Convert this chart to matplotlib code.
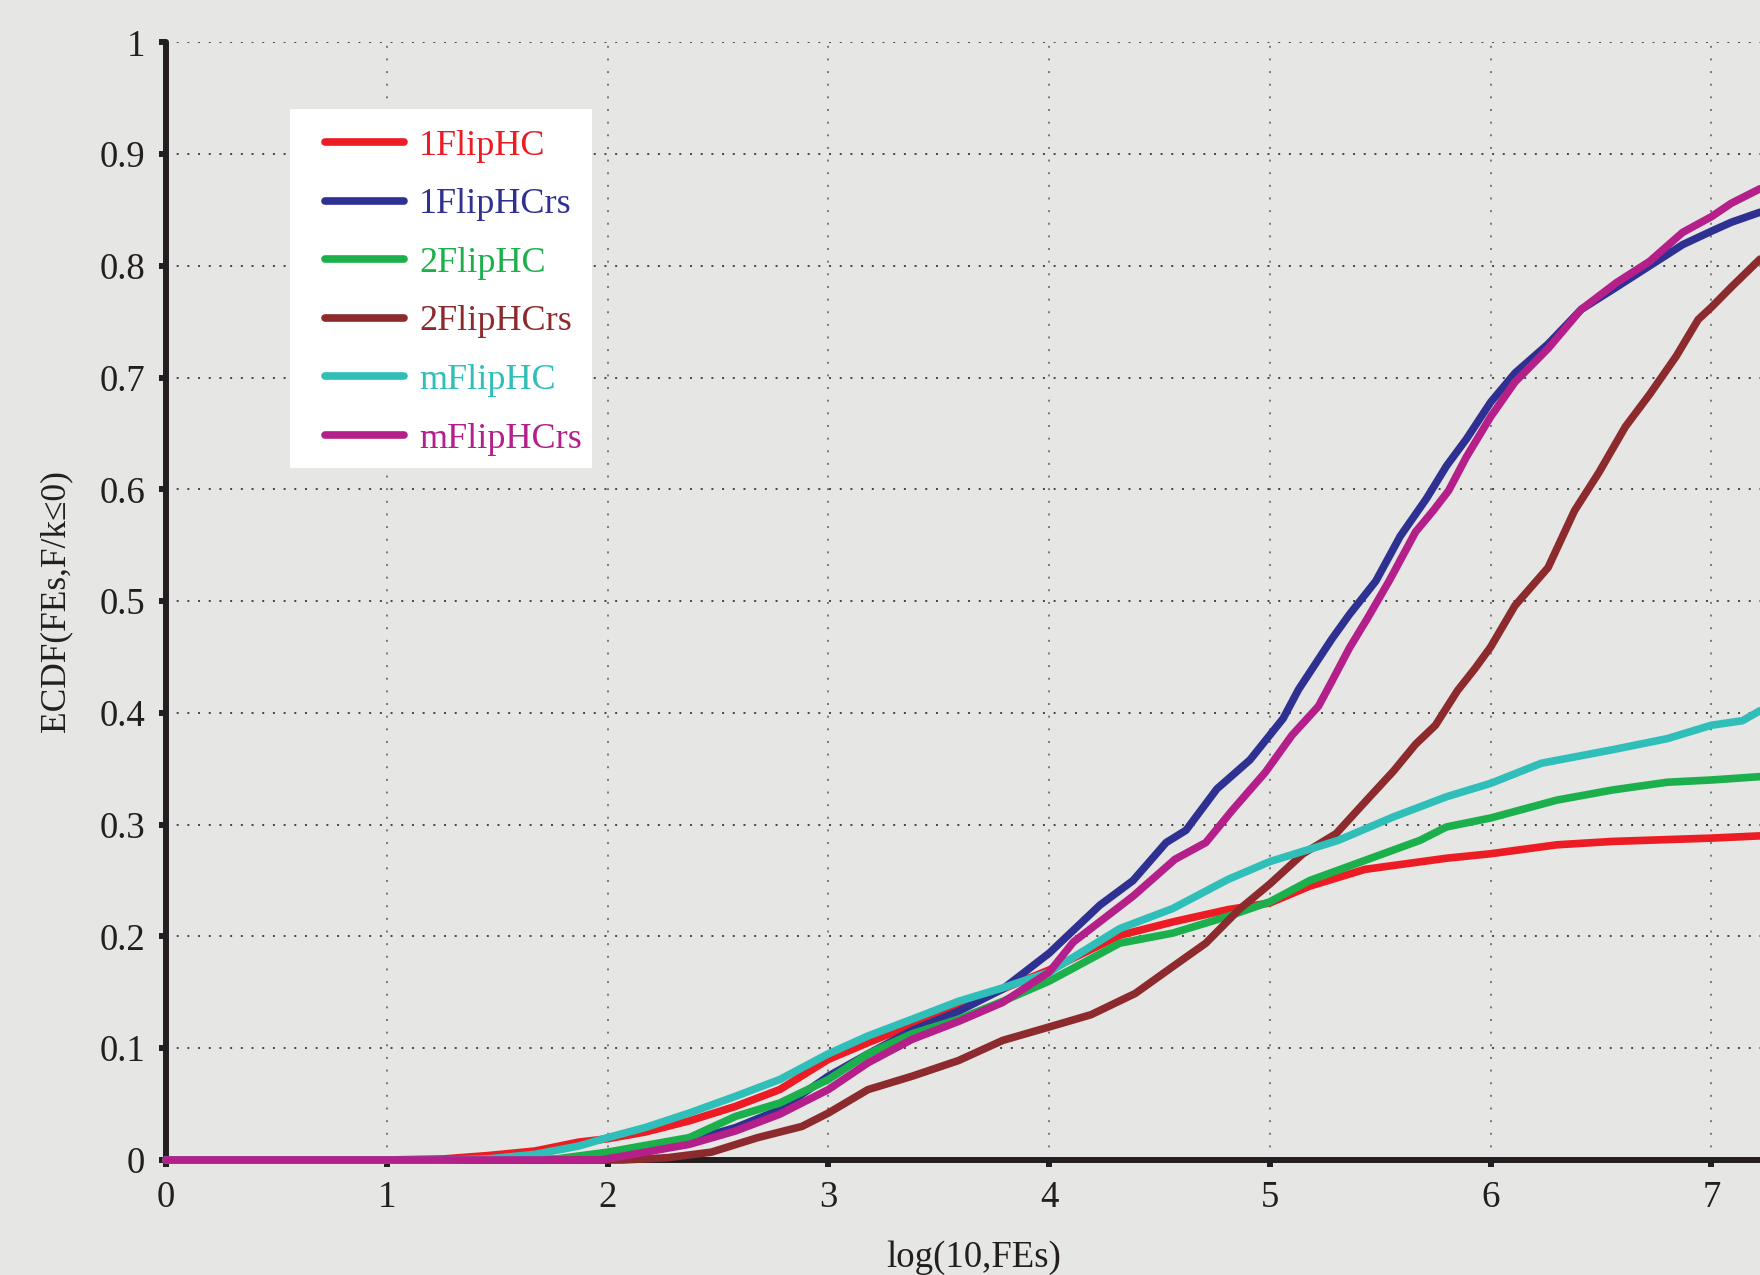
import matplotlib
matplotlib.use("Agg")
import matplotlib.pyplot as plt
from matplotlib.patches import Rectangle

# ECDF curves (x = log10 FEs)
labels = ["1FlipHC", "1FlipHCrs", "2FlipHC", "2FlipHCrs", "mFlipHC", "mFlipHCrs"]
colors = ["#ED1C24", "#2E3192", "#1BB04B", "#8C2A2E", "#2FBFB8", "#B51F8A"]

x_1fliphc = [0, 1.0, 1.26, 1.46, 1.67, 1.87, 2.0, 2.17, 2.37, 2.58, 2.78, 3.0, 3.18, 3.38,
             3.59, 3.79, 4.0, 4.32, 4.56, 4.81, 5.0, 5.18, 5.43, 5.80, 6.0, 6.30, 6.55, 7.0, 7.22]
y_1fliphc = [0, 0, 0.001, 0.004, 0.008, 0.016, 0.019, 0.025, 0.035, 0.048, 0.063, 0.090, 0.105,
             0.121, 0.136, 0.153, 0.170, 0.201, 0.213, 0.224, 0.230, 0.245, 0.260, 0.270, 0.274,
             0.282, 0.285, 0.288, 0.290]

x_1fliphcrs = [0, 1.97, 2.17, 2.37, 2.58, 2.78, 3.0, 3.18, 3.38, 3.59, 3.79, 4.0, 4.23, 4.38,
               4.53, 4.62, 4.76, 4.91, 5.06, 5.13, 5.28, 5.36, 5.48, 5.59, 5.71, 5.80, 5.89, 6.0,
               6.11, 6.26, 6.41, 6.57, 6.72, 6.87, 7.0, 7.09, 7.22]
y_1fliphcrs = [0, 0, 0.008, 0.017, 0.029, 0.045, 0.075, 0.095, 0.116, 0.133, 0.153, 0.185, 0.228,
               0.250, 0.284, 0.295, 0.332, 0.358, 0.395, 0.421, 0.466, 0.488, 0.518, 0.558, 0.592,
               0.621, 0.645, 0.678, 0.704, 0.730, 0.761, 0.781, 0.800, 0.819, 0.831, 0.839, 0.848]

x_2fliphc = [0, 1.5, 1.77, 2.0, 2.17, 2.37, 2.58, 2.78, 3.0, 3.18, 3.38, 3.59, 3.79, 4.0, 4.32,
             4.56, 4.81, 5.0, 5.18, 5.43, 5.68, 5.80, 6.0, 6.30, 6.55, 6.80, 7.0, 7.22]
y_2fliphc = [0, 0, 0.001, 0.007, 0.013, 0.020, 0.039, 0.051, 0.072, 0.095, 0.113, 0.126, 0.142,
             0.160, 0.194, 0.203, 0.218, 0.231, 0.250, 0.268, 0.286, 0.298, 0.306, 0.322, 0.331,
             0.338, 0.340, 0.343]

x_2fliphcrs = [0, 2.07, 2.27, 2.47, 2.68, 2.88, 3.0, 3.18, 3.38, 3.59, 3.79, 4.0, 4.19, 4.39,
               4.56, 4.71, 4.86, 5.0, 5.15, 5.30, 5.42, 5.56, 5.66, 5.75, 5.85, 5.93, 6.0, 6.11,
               6.26, 6.38, 6.49, 6.61, 6.72, 6.84, 6.94, 7.0, 7.09, 7.22]
y_2fliphcrs = [0, 0, 0.002, 0.007, 0.020, 0.030, 0.042, 0.063, 0.075, 0.089, 0.107, 0.119, 0.130,
               0.149, 0.173, 0.194, 0.224, 0.247, 0.274, 0.292, 0.318, 0.348, 0.372, 0.389, 0.420,
               0.440, 0.459, 0.496, 0.530, 0.581, 0.615, 0.656, 0.685, 0.719, 0.752, 0.763, 0.781,
               0.806]

x_mfliphc = [0, 1.3, 1.46, 1.67, 1.87, 2.0, 2.17, 2.37, 2.58, 2.78, 3.0, 3.18, 3.38, 3.59, 3.79,
             4.0, 4.32, 4.56, 4.81, 5.0, 5.31, 5.56, 5.80, 6.0, 6.23, 6.55, 6.80, 7.0, 7.14, 7.22]
y_mfliphc = [0, 0, 0.001, 0.005, 0.0125, 0.020, 0.029, 0.042, 0.057, 0.072, 0.095, 0.111, 0.126,
             0.142, 0.154, 0.168, 0.207, 0.225, 0.251, 0.267, 0.286, 0.307, 0.325, 0.337, 0.355,
             0.367, 0.377, 0.389, 0.393, 0.402]

x_mfliphcrs = [0, 1.97, 2.17, 2.37, 2.58, 2.78, 3.0, 3.18, 3.38, 3.59, 3.79, 4.0, 4.11, 4.38,
               4.57, 4.71, 4.83, 4.98, 5.10, 5.22, 5.28, 5.36, 5.44, 5.54, 5.66, 5.74, 5.81, 5.89,
               6.0, 6.11, 6.26, 6.41, 6.57, 6.72, 6.87, 7.0, 7.09, 7.22]
y_mfliphcrs = [0, 0, 0.007, 0.014, 0.026, 0.041, 0.063, 0.087, 0.108, 0.124, 0.141, 0.168, 0.195,
               0.236, 0.269, 0.284, 0.313, 0.347, 0.380, 0.406, 0.428, 0.458, 0.484, 0.518, 0.562,
               0.581, 0.599, 0.629, 0.665, 0.696, 0.726, 0.761, 0.785, 0.804, 0.830, 0.844, 0.856,
               0.869]

series_x = [x_1fliphc, x_1fliphcrs, x_2fliphc, x_2fliphcrs, x_mfliphc, x_mfliphcrs]
series_y = [y_1fliphc, y_1fliphcrs, y_2fliphc, y_2fliphcrs, y_mfliphc, y_mfliphcrs]

x_ticks = [0, 1, 2, 3, 4, 5, 6, 7]
y_ticks = [0, 0.1, 0.2, 0.3, 0.4, 0.5, 0.6, 0.7, 0.8, 0.9, 1]
y_tick_labels = ["0", "0.1", "0.2", "0.3", "0.4", "0.5", "0.6", "0.7", "0.8", "0.9", "1"]

BG = "#E6E6E4"
INK = "#231F20"
plt.rcParams["font.family"] = ["Liberation Serif", "DejaVu Serif"]

fig = plt.figure(figsize=(17.6, 12.75), dpi=100, facecolor=BG)
ax = fig.add_axes([0.0943, 0.0902, 0.9057, 0.8766], facecolor=BG)

for xs, ys, c, lab in zip(series_x, series_y, colors, labels):
    ax.plot(xs, ys, color=c, lw=5.5, label=lab, zorder=3, clip_on=False,
            solid_capstyle="round", solid_joinstyle="round")

ax.set_xlim(0, 7.22)
ax.set_ylim(0, 1)
ax.set_xticks(x_ticks)
ax.set_yticks(y_ticks)
ax.set_yticklabels(y_tick_labels)

for side in ("top", "right"):
    ax.spines[side].set_visible(False)
for side in ("left", "bottom"):
    ax.spines[side].set_linewidth(4.3)
    ax.spines[side].set_color(INK)
    ax.spines[side].set_capstyle("round")

ax.tick_params(axis="both", direction="out", length=5, width=4.3, color=INK,
               labelsize=26.5, labelcolor=INK, pad=10)

ax.grid(True, which="major", axis="y", color="#444444", lw=1.4, linestyle=(0, (1, 4.5)))
ax.grid(True, which="major", axis="x", color="#777777", lw=1.4, linestyle=(0, (1, 5.5)))
ax.set_axisbelow(True)

ax.set_xlabel("log(10,FEs)", fontsize=26.5, color=INK, va="top")
ax.xaxis.set_label_coords(0.507, -0.0716)
ax.set_ylabel("ECDF(FEs,F/k≤0)", fontsize=25.5, color=INK)
ax.yaxis.set_label_coords(-0.059, 0.5)

# white legend box: more padding on the left than on the right
ax.add_patch(Rectangle((0.0778, 0.619), 0.1895, 0.321, transform=ax.transAxes,
                       facecolor="white", edgecolor="none", zorder=4, clip_on=False))
leg = ax.legend(loc="upper left", bbox_to_anchor=(0.0995, 0.922), borderaxespad=0,
                fontsize=26, frameon=False, borderpad=0,
                handlelength=2.2, handletextpad=0.42, labelspacing=0.70)
leg.set_zorder(5)
for txt, c in zip(leg.get_texts(), colors):
    txt.set_color(c)

fig.savefig("out.png", dpi=100, facecolor=BG)
